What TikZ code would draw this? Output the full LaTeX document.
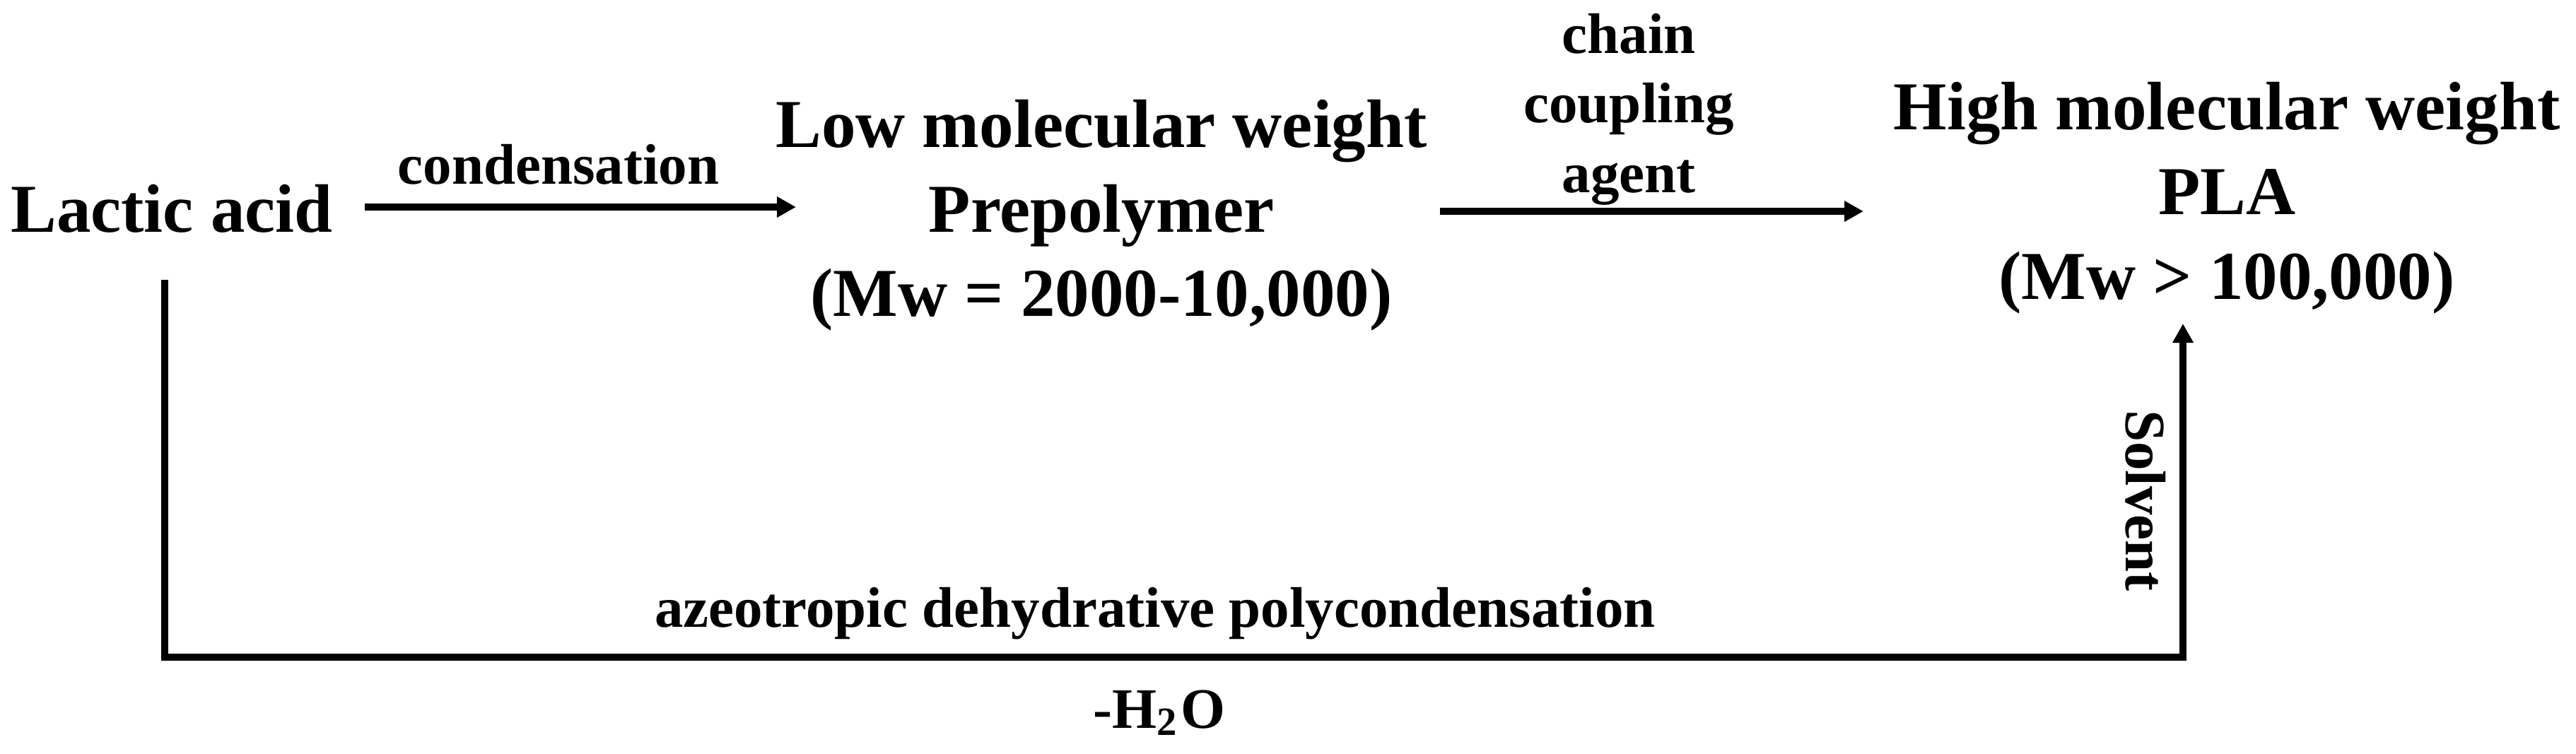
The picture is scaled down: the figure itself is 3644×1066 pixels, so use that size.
\documentclass[tikz,border=0pt]{standalone}
\usepackage{fontspec}
\setmainfont{Liberation Serif}
\usetikzlibrary{arrows.meta}
\begin{document}
\begin{tikzpicture}[x=0.1pt,y=-0.1pt,
  big/.style={font=\fontsize{9.7pt}{12pt}\selectfont\bfseries, inner sep=0pt, anchor=base},
  small/.style={font=\fontsize{8.1pt}{10pt}\selectfont\bfseries, inner sep=0pt, anchor=base},
  arr/.style={line width=1pt, -{Triangle[length=2.7pt,width=2.8pt]}},
  ln/.style={line width=1pt}]
\useasboundingbox[fill=white] (0,0) rectangle (3644,1066);
% main species
\node[big] (la) at (243,328) {Lactic acid};
\node[big] (low1) at (1558,208) {Low molecular weight};
\node[big] (low2) at (1558,328) {Prepolymer};
\node[big] (low3) at (1558,447) {(Mw = 2000-10,000)};
\node[big] (high1) at (3150,183) {High molecular weight};
\node[big] (high2) at (3150,303) {PLA};
\node[big] (high3) at (3150,423) {(Mw > 100,000)};
% labels
\node[small] (cond) at (790,260) {condensation};
\node[small] (ch1) at (2304,75) {chain};
\node[small] (ch2) at (2304,173) {coupling};
\node[small] (ch3) at (2304,272) {agent};
\node[small] (azeo) at (1634,887) {azeotropic dehydrative polycondensation};
\node[small] (water) at (1640,1030) {-H\textsubscript{2}O};
\node[small, rotate=-90, anchor=base west] (solv) at (3007,578) {Solvent};
% connector points
\coordinate (a1s) at (516,293);
\coordinate (a1e) at (1126,293);
\coordinate (a2s) at (2037,299);
\coordinate (a2e) at (2636,299);
\coordinate (ls) at (233,396);
\coordinate (lc) at (233,930);
\coordinate (rc) at (3088,930);
\coordinate (re) at (3088,458);
% connectors
\draw[arr] (a1s) -- (a1e);
\draw[arr] (a2s) -- (a2e);
\draw[arr] (ls) -- (lc) -- (rc) -- (re);
\end{tikzpicture}
\end{document}
